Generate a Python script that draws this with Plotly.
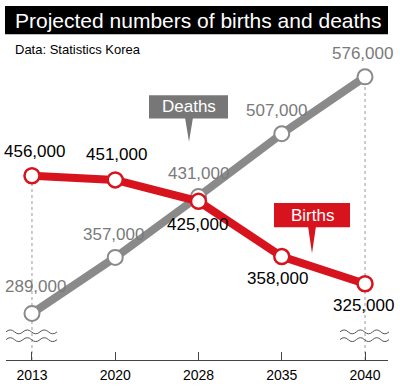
import plotly.graph_objects as go

years = ["2013", "2020", "2028", "2035", "2040"]
births = [456000, 451000, 425000, 358000, 325000]
deaths = [289000, 357000, 431000, 507000, 576000]
birth_labels = ["456,000", "451,000", "425,000", "358,000", "325,000"]
death_labels = ["289,000", "357,000", "431,000", "507,000", "576,000"]

RED = "#d7141e"
GRAY = "#8a8a8a"
LABEL_GRAY = "#7a7a7a"
FONT = "Liberation Sans, Arial, sans-serif"

W, H = 400, 389
L, R, T, B = 6, 12, 40, 19
PW, PH = W - L - R, H - T - B
YMIN, YMAX = 232500, 620735
XR = [-0.312, 4.276]


def px(x):
    return (x - L) / PW


def py(y):
    return (H - B - y) / PH


idx = list(range(len(years)))

fig = go.Figure()
fig.add_trace(go.Scatter(
    x=idx, y=deaths, mode="lines+markers",
    line=dict(color=GRAY, width=8),
    marker=dict(size=15, color="white", line=dict(color=GRAY, width=2)),
    hoverinfo="skip", showlegend=False))
fig.add_trace(go.Scatter(
    x=idx, y=births, mode="lines+markers",
    line=dict(color=RED, width=8),
    marker=dict(size=15, color="white", line=dict(color=RED, width=2.5)),
    hoverinfo="skip", showlegend=False))

shapes = []
# dashed guides
shapes.append(dict(type="line", xref="x", yref="y", x0=0, x1=0, y0=YMIN, y1=births[0],
                   line=dict(color="#999999", width=1, dash="dot"), layer="below"))
shapes.append(dict(type="line", xref="x", yref="y", x0=4, x1=4, y0=YMIN, y1=deaths[4],
                   line=dict(color="#999999", width=1, dash="dot"), layer="below"))
# title bar
shapes.append(dict(type="rect", xref="paper", yref="paper",
                   x0=px(5), x1=px(388), y0=py(34), y1=py(5),
                   fillcolor="black", line=dict(width=0)))


# wavy break marks
def wave(x0, x1, y):
    n = 6
    step = (x1 - x0) / n
    d = f"M {px(x0)},{py(y)}"
    for i in range(n):
        xa = x0 + step * i
        cy = y - 4 if i % 2 == 0 else y + 4
        d += f" Q {px(xa + step / 2)},{py(cy)} {px(xa + step)},{py(y)}"
    return d


for (a, b) in [(6, 57), (340, 389)]:
    for yy in (341, 349):
        shapes.append(dict(type="path", xref="paper", yref="paper", path=wave(a, b, yy),
                           line=dict(color="#555555", width=1)))

# legend boxes
shapes.append(dict(type="rect", xref="paper", yref="paper",
                   x0=px(149), x1=px(228), y0=py(121), y1=py(97),
                   fillcolor="#777777", line=dict(width=0)))
shapes.append(dict(type="path", xref="paper", yref="paper",
                   path=f"M {px(185)},{py(120)} L {px(193)},{py(120)} L {px(189)},{py(145)} Z",
                   fillcolor="#777777", line=dict(width=0)))
shapes.append(dict(type="rect", xref="paper", yref="paper",
                   x0=px(274), x1=px(350), y0=py(233), y1=py(208),
                   fillcolor=RED, line=dict(width=0)))
shapes.append(dict(type="path", xref="paper", yref="paper",
                   path=f"M {px(308)},{py(232)} L {px(316)},{py(232)} L {px(312)},{py(260)} Z",
                   fillcolor=RED, line=dict(width=0)))

annotations = []
death_off = [(4, 27), (-2, 23), (0, 23), (-5, 23), (-3, 23)]
birth_off = [(3, 24), (1, 25), (-1, -23), (-4, -22), (-2, -22)]
for i in idx:
    annotations.append(dict(x=i, y=deaths[i], xref="x", yref="y", text=death_labels[i],
                            showarrow=False, xshift=death_off[i][0], yshift=death_off[i][1],
                            xanchor="center", yanchor="middle",
                            font=dict(family=FONT, size=17, color=LABEL_GRAY)))
    annotations.append(dict(x=i, y=births[i], xref="x", yref="y", text=birth_labels[i],
                            showarrow=False, xshift=birth_off[i][0], yshift=birth_off[i][1],
                            xanchor="center", yanchor="middle",
                            font=dict(family=FONT, size=17, color="black")))

annotations.append(dict(x=px(199), y=py(20), xref="paper", yref="paper",
                        xanchor="center", yanchor="middle",
                        text="Projected numbers of births and deaths", showarrow=False,
                        font=dict(family=FONT, size=21, color="white")))
annotations.append(dict(x=px(13), y=py(50), xref="paper", yref="paper",
                        xanchor="left", yanchor="middle",
                        text="Data: Statistics Korea", showarrow=False,
                        font=dict(family=FONT, size=13, color="black")))
annotations.append(dict(x=px(188.5), y=py(109), xref="paper", yref="paper",
                        xanchor="center", yanchor="middle",
                        text="Deaths", showarrow=False,
                        font=dict(family=FONT, size=17, color="white")))
annotations.append(dict(x=px(312), y=py(220.5), xref="paper", yref="paper",
                        xanchor="center", yanchor="middle",
                        text="Births", showarrow=False,
                        font=dict(family=FONT, size=17, color="white")))

fig.update_layout(
    width=W, height=H,
    margin=dict(l=L, r=R, t=T, b=B),
    paper_bgcolor="white", plot_bgcolor="white",
    shapes=shapes, annotations=annotations,
    xaxis=dict(range=XR, tickmode="array", tickvals=idx, ticktext=years,
               showgrid=False, zeroline=False, showline=True, linecolor="#444444",
               linewidth=1, ticks="inside", ticklen=8, tickcolor="#444444",
               ticklabelstandoff=2,
               tickfont=dict(family=FONT, size=14, color="black"), fixedrange=True),
    yaxis=dict(range=[YMIN, YMAX], visible=False, fixedrange=True),
)

page_fix = (
    "document.documentElement.style.margin='0';"
    "document.body.style.margin='0';"
    "document.body.style.padding='0';"
)
fig.write_html("out.html", config={"displayModeBar": False}, post_script=page_fix)
